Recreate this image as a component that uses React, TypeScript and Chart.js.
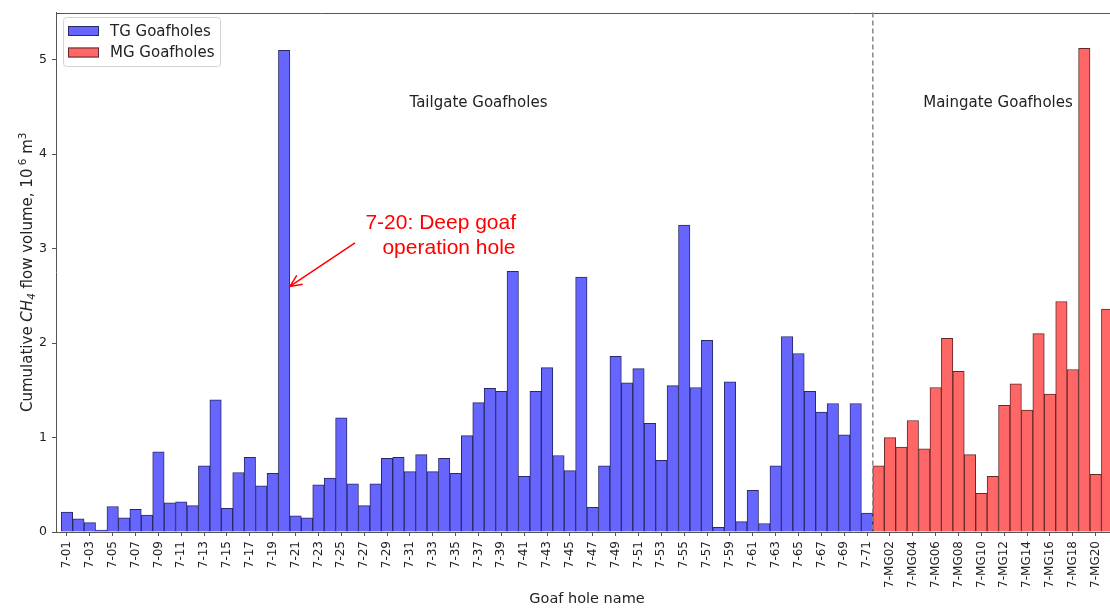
import React, { useEffect, useRef } from "react";
import { Chart, registerables } from "chart.js";

Chart.register(...registerables);

// Hole names
const tgNames: string[] = Array.from({ length: 71 }, (_, i) => `7-${String(i + 1).padStart(2, "0")}`);
const mgNames: string[] = Array.from({ length: 21 }, (_, i) => `7-MG${String(i + 1).padStart(2, "0")}`);
const allNames: string[] = [...tgNames, ...mgNames];

// Cumulative CH4 flow volume per hole (10^6 m^3)
const tgValues: number[] = [
  0.21, 0.14, 0.10, 0.02, 0.27, 0.15, 0.24, 0.18, 0.85, 0.31,
  0.32, 0.28, 0.70, 1.40, 0.25, 0.63, 0.79, 0.49, 0.62, 5.10,
  0.17, 0.15, 0.50, 0.57, 1.21, 0.51, 0.28, 0.51, 0.78, 0.79,
  0.64, 0.82, 0.64, 0.78, 0.62, 1.02, 1.37, 1.52, 1.49, 2.76,
  0.59, 1.49, 1.74, 0.81, 0.65, 2.70, 0.26, 0.70, 1.86, 1.58,
  1.73, 1.15, 0.76, 1.55, 3.25, 1.53, 2.03, 0.05, 1.59, 0.11,
  0.44, 0.09, 0.70, 2.07, 1.89, 1.49, 1.27, 1.36, 1.03, 1.36,
  0.20,
];
const mgValues: number[] = [
  0.70, 1.00, 0.90, 1.18, 0.88, 1.53, 2.05, 1.70, 0.82, 0.41,
  0.59, 1.34, 1.57, 1.29, 2.10, 1.46, 2.44, 1.72, 5.12, 0.61,
  2.36,
];

// Every other hole gets a tick label
const xTickIndices: number[] = allNames.map((_, i) => i).filter((i) => i % 2 === 0 && i <= 90);
const yTickValues: number[] = [0, 1, 2, 3, 4, 5];

const FONT = "'DejaVu Sans', sans-serif";
const TEXT = "#222";
const AXIS = "#555";

const overlayPlugin = {
  id: "overlay",
  afterDatasetsDraw(chart: any) {
    const { ctx, chartArea: a, scales } = chart;
    const x = scales.x;
    const y = scales.y;
    ctx.save();

    // top frame line
    ctx.strokeStyle = AXIS;
    ctx.lineWidth = 1;
    ctx.beginPath();
    ctx.moveTo(a.left, Math.round(a.top) + 0.5);
    ctx.lineTo(a.right, Math.round(a.top) + 0.5);
    ctx.stroke();

    // divider between tailgate and maingate holes
    const dx = x.getPixelForValue(tgValues.length - 0.5);
    ctx.strokeStyle = "#888";
    ctx.lineWidth = 1.5;
    ctx.setLineDash([5, 3]);
    ctx.beginPath();
    ctx.moveTo(dx, a.top);
    ctx.lineTo(dx, a.bottom);
    ctx.stroke();
    ctx.setLineDash([]);

    // group captions
    ctx.fillStyle = TEXT;
    ctx.font = `15px ${FONT}`;
    ctx.textAlign = "center";
    ctx.textBaseline = "alphabetic";
    ctx.fillText("Tailgate Goafholes", x.getPixelForValue(36.0), y.getPixelForValue(4.5));
    ctx.fillText("Maingate Goafholes", x.getPixelForValue(81.45), y.getPixelForValue(4.5));

    // callout for 7-20
    ctx.fillStyle = "#ff0000";
    ctx.strokeStyle = "#ff0000";
    ctx.font = "21px 'Liberation Sans', Arial, sans-serif";
    ctx.fillText("7-20: Deep goaf", x.getPixelForValue(32.7), y.getPixelForValue(3.207));
    ctx.fillText("operation hole", x.getPixelForValue(33.42), y.getPixelForValue(2.943));

    const tx = x.getPixelForValue(19.5);
    const ty = y.getPixelForValue(2.6);
    const sx = x.getPixelForValue(25.2);
    const sy = y.getPixelForValue(3.06);
    ctx.lineWidth = 1.5;
    ctx.beginPath();
    ctx.moveTo(sx, sy);
    ctx.lineTo(tx, ty);
    const ang = Math.atan2(sy - ty, sx - tx);
    const head = 13;
    const spread = 0.42;
    ctx.moveTo(tx + head * Math.cos(ang + spread), ty + head * Math.sin(ang + spread));
    ctx.lineTo(tx, ty);
    ctx.lineTo(tx + head * Math.cos(ang - spread), ty + head * Math.sin(ang - spread));
    ctx.stroke();

    // legend
    const lx = 63.5, ly = 17.5, lw = 157, lh = 49;
    ctx.beginPath();
    ctx.roundRect(lx, ly, lw, lh, 3);
    ctx.fillStyle = "rgba(255,255,255,0.85)";
    ctx.fill();
    ctx.strokeStyle = "#d4d4d4";
    ctx.lineWidth = 1;
    ctx.stroke();
    const rows = [
      { label: "TG Goafholes", fill: "#6666ff", edge: "#292966", cy: 31 },
      { label: "MG Goafholes", fill: "#ff6666", edge: "#662929", cy: 52.5 },
    ];
    ctx.font = `15px ${FONT}`;
    ctx.textAlign = "left";
    ctx.textBaseline = "middle";
    for (const r of rows) {
      ctx.fillStyle = r.fill;
      ctx.fillRect(68, r.cy - 5, 31, 10);
      ctx.strokeStyle = r.edge;
      ctx.strokeRect(68.5, r.cy - 4.5, 30, 9);
      ctx.fillStyle = TEXT;
      ctx.fillText(r.label, 110, r.cy + 1);
    }

    // y axis title with sub/superscripts
    const parts = [
      { t: "Cumulative ", f: `15px ${FONT}`, dy: 0 },
      { t: "CH", f: `italic 15px ${FONT}`, dy: 0 },
      { t: "4", f: `italic 10.5px ${FONT}`, dy: 3 },
      { t: " flow volume, 10", f: `15px ${FONT}`, dy: 0 },
      { t: " 6", f: `10.5px ${FONT}`, dy: -6 },
      { t: " m", f: `15px ${FONT}`, dy: 0 },
      { t: "3", f: `10.5px ${FONT}`, dy: -6 },
    ];
    let total = 0;
    const widths = parts.map((p) => {
      ctx.font = p.f;
      const w = ctx.measureText(p.t).width;
      total += w;
      return w;
    });
    ctx.translate(27, (a.top + a.bottom) / 2);
    ctx.rotate(-Math.PI / 2);
    ctx.fillStyle = TEXT;
    ctx.textAlign = "left";
    ctx.textBaseline = "alphabetic";
    let cx = -total / 2;
    parts.forEach((p, i) => {
      ctx.font = p.f;
      ctx.fillText(p.t, cx, 5 + p.dy);
      cx += widths[i];
    });

    ctx.restore();
  },
};

export default function App() {
  const canvasRef = useRef<HTMLCanvasElement | null>(null);

  useEffect(() => {
    const canvas = canvasRef.current;
    if (!canvas) return;
    const chart = new Chart(canvas, {
      type: "bar",
      data: {
        datasets: [
          {
            label: "TG Goafholes",
            data: tgValues.map((v, i) => ({ x: i, y: v })),
            backgroundColor: "#6666ff",
            borderColor: "#292966",
            borderWidth: 1,
            grouped: false,
            barPercentage: 1,
            categoryPercentage: 1,
          } as any,
          {
            label: "MG Goafholes",
            data: mgValues.map((v, i) => ({ x: tgValues.length + i, y: v })),
            backgroundColor: "#ff6666",
            borderColor: "#662929",
            borderWidth: 1,
            grouped: false,
            barPercentage: 1,
            categoryPercentage: 1,
          } as any,
        ],
      },
      options: {
        animation: false,
        responsive: false,
        events: [],
        layout: { padding: { left: 0, top: 11, right: 2, bottom: 0 } },
        plugins: { legend: { display: false }, tooltip: { enabled: false } },
        scales: {
          x: {
            type: "linear",
            min: -0.96,
            max: 91.95,
            bounds: "data",
            offset: false,
            afterBuildTicks: (s: any) => {
              s.ticks = xTickIndices.map((v) => ({ value: v }));
            },
            afterFit: (s: any) => {
              s.height = 77;
            },
            ticks: {
              autoSkip: false,
              minRotation: 90,
              maxRotation: 90,
              padding: 5,
              color: TEXT,
              font: { family: FONT, size: 12 },
              callback: (v: any) => allNames[v] ?? "",
            },
            grid: { display: true, drawOnChartArea: false, drawTicks: true, tickLength: 4, color: AXIS, offset: false },
            border: { display: true, color: AXIS, width: 1 },
            title: {
              display: true,
              text: "Goaf hole name",
              color: TEXT,
              font: { family: FONT, size: 14.5 },
              padding: { top: 0, bottom: 1 },
            },
          },
          y: {
            min: 0,
            max: 5.5,
            bounds: "data",
            afterBuildTicks: (s: any) => {
              s.ticks = yTickValues.map((v) => ({ value: v }));
            },
            afterFit: (s: any) => {
              s.width = 56;
            },
            ticks: {
              padding: 5,
              color: TEXT,
              font: { family: FONT, size: 12.5 },
              callback: (v: any) => String(v),
            },
            grid: { display: true, drawOnChartArea: false, drawTicks: true, tickLength: 4, color: AXIS },
            border: { display: true, color: AXIS, width: 1 },
          },
        },
      } as any,
      plugins: [overlayPlugin],
    });
    return () => chart.destroy();
  }, []);

  return (
    <div style={{ position: "fixed", left: 0, top: 0, width: 1110, height: 609, overflow: "hidden", background: "#fff" }}>
      <canvas ref={canvasRef} width={1120} height={609} style={{ display: "block" }} />
    </div>
  );
}
